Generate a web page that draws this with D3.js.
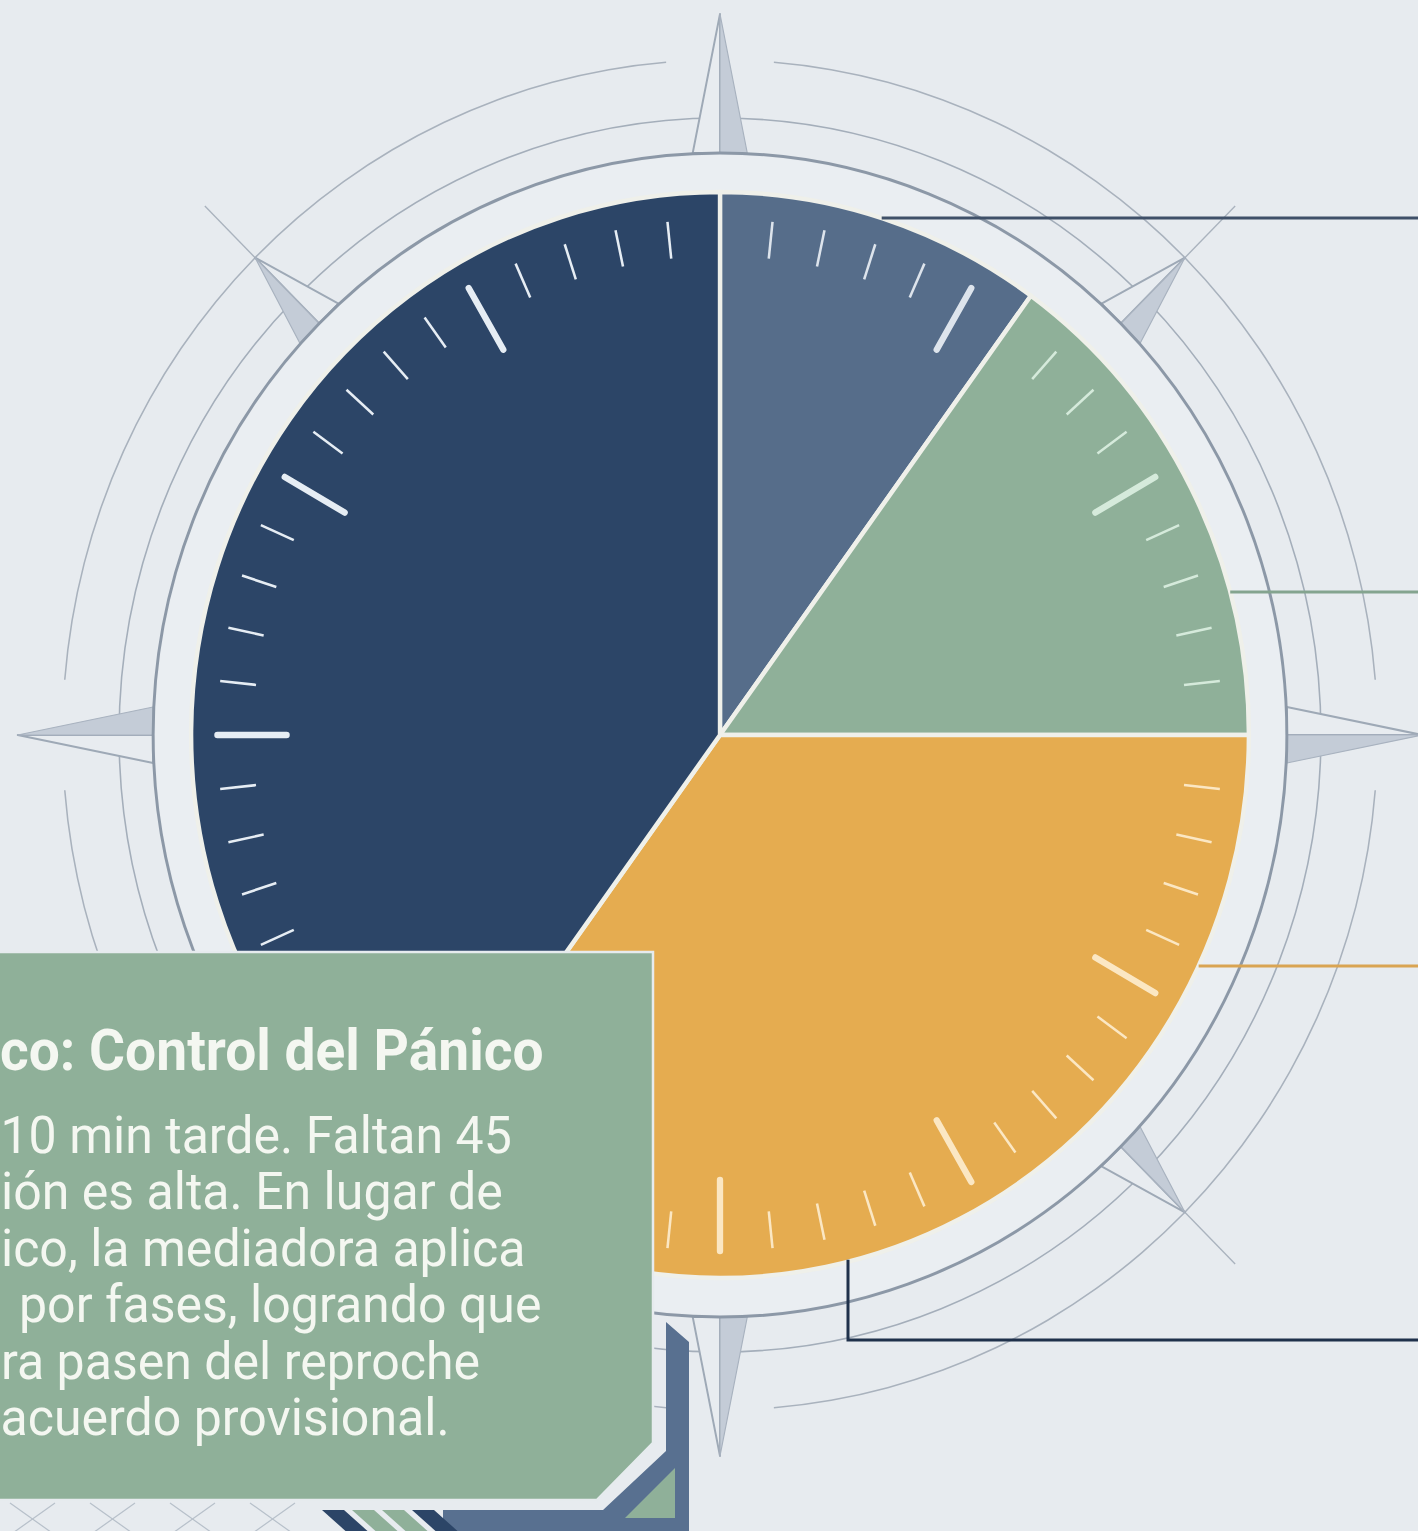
<!DOCTYPE html>
<html>
<head>
<meta charset="utf-8">
<script src="https://cdn.jsdelivr.net/npm/d3@7"></script>
<style>
  html, body { margin: 0; padding: 0; background: #e7ebef; }
  svg { display: block; }
</style>
</head>
<body>
<svg id="chart" width="1418" height="1531"></svg>
<script>
// ---------------- DATA ----------------
const categories = ["Acogida", "Exploración", "Negociación", "Cierre"];
const values = [6, 9, 21, 24];           // minutes of a 60-minute session (10%, 15%, 35%, 40%)
const sliceColors = ["#566d8a", "#8fb099", "#e5ac50", "#2c4567"];
const tickColors = ["#dde4ec", "#d5eadb", "#fbe7c3", "#e6edf4"];
const leaderColors = ["#3f5068", "#84a48f", "#d9a452", "#1f314b"];
const minutes = d3.range(60);            // clock-face minute ticks
const titleText = "co: Control del Pánico";
const bodyLines = [
  "10 min tarde. Faltan 45",
  "ión es alta. En lugar de",
  "ico, la mediadora aplica",
  "por fases, logrando que",
  "ra pasen del reproche",
  "acuerdo provisional."
];
const bodyLineStarts = [0.5, 1, 1, 19, 1, 0.5];

// ---------------- LAYOUT ----------------
const W = 1418, H = 1531;
const cx = 720, cy = 735, sx = 0.974;
const R = 543, bezelR = 582, ring2R = 617, outerR = 675;
const cardTip = 721, diagTip = 675, baseR = 582, halfW = 28;
const svg = d3.select("#chart");
const rad = d => d * Math.PI / 180;

svg.append("rect").attr("width", W).attr("height", H).attr("fill", "#e7ebef");

const g = svg.append("g").attr("transform", `translate(${cx},${cy}) scale(${sx},1)`);

// outer ring with gaps at cardinal points
const gap = 4.7;
const outerArc = d3.arc().innerRadius(outerR - 0.8).outerRadius(outerR + 0.8);
[0, 90, 180, 270].forEach(a => {
  g.append("path")
    .attr("d", outerArc({ startAngle: rad(a + gap), endAngle: rad(a + 90 - gap) }))
    .attr("fill", "#a9b2bd");
});
g.append("circle").attr("r", ring2R).attr("fill", "none")
  .attr("stroke", "#a4aeba").attr("stroke-width", 1.6);

// diagonal guide lines
[45, 135, 225, 315].forEach(a => {
  g.append("line")
    .attr("x1", diagTip * Math.sin(rad(a))).attr("y1", -diagTip * Math.cos(rad(a)))
    .attr("x2", 748 * Math.sin(rad(a))).attr("y2", -748 * Math.cos(rad(a)))
    .attr("stroke", "#aab3be").attr("stroke-width", 1.4);
});

// compass points
const points = [
  { a: 0, tip: cardTip, s: 1 }, { a: 90, tip: cardTip, s: 1 },
  { a: 180, tip: cardTip, s: -1 }, { a: 270, tip: cardTip, s: 1 },
  { a: 45, tip: diagTip, s: 1 }, { a: 135, tip: diagTip, s: -1 },
  { a: 225, tip: diagTip, s: -1 }, { a: 315, tip: diagTip, s: -1 }
];
points.forEach(p => {
  const pg = g.append("g").attr("transform", `rotate(${p.a})`);
  const w = halfW * p.s;
  pg.append("path")
    .attr("d", `M0,${-p.tip} L${-w},${-baseR} L0,${-baseR} Z`)
    .attr("fill", "#e8ecf0").attr("stroke", "#9ea9b6").attr("stroke-width", 2)
    .attr("stroke-linejoin", "round");
  pg.append("path")
    .attr("d", `M0,${-p.tip} L${w},${-baseR} L0,${-baseR} Z`)
    .attr("fill", "#c4ccd7").attr("stroke", "#a8b2bf").attr("stroke-width", 1.2)
    .attr("stroke-linejoin", "round");
});

// bezel
g.append("circle").attr("r", (bezelR + R) / 2).attr("fill", "none")
  .attr("stroke", "#eaeef2").attr("stroke-width", bezelR - R - 4);
g.append("circle").attr("r", bezelR).attr("fill", "none")
  .attr("stroke", "#8c98a7").attr("stroke-width", 3);

// pie
const pie = d3.pie().sort(null).value(d => d);
const arcs = pie(values);
const arc = d3.arc().innerRadius(0).outerRadius(R);
g.selectAll("path.slice").data(arcs).join("path")
  .attr("class", "slice")
  .attr("d", arc)
  .attr("fill", (d, i) => sliceColors[i])
  .attr("stroke", "#eff0ea").attr("stroke-width", 4.5)
  .attr("stroke-linejoin", "round");

// clock ticks
const boundaries = arcs.map(d => d.startAngle);
const sliceOf = ang => arcs.findIndex(d => ang >= d.startAngle - 1e-9 && ang < d.endAngle - 1e-9);
minutes.forEach(m => {
  const ang = rad(m * 6);
  if (boundaries.some(b => Math.abs(b - ang) < 1e-6)) return;
  const major = m % 5 === 0;
  const r2 = 516, r1 = major ? 445 : 479;
  g.append("line")
    .attr("x1", r1 * Math.sin(ang)).attr("y1", -r1 * Math.cos(ang))
    .attr("x2", r2 * Math.sin(ang)).attr("y2", -r2 * Math.cos(ang))
    .attr("stroke", tickColors[sliceOf(ang)])
    .attr("stroke-width", major ? 6.5 : 2.6)
    .attr("stroke-linecap", major ? "round" : "butt");
});

// leader lines
const rowY = i => 218 + i * 374;
arcs.forEach((d, i) => {
  let pts;
  if (i < 3) {
    const y = rowY(i);
    const x = cx + sx * Math.sqrt(R * R - (y - cy) * (y - cy));
    pts = [[x, y], [W + 5, y]];
  } else {
    const ex = 848;
    const y0 = cy + Math.sqrt(R * R - Math.pow((ex - cx) / sx, 2)) - 2;
    pts = [[ex, y0], [ex, rowY(i)], [W + 5, rowY(i)]];
  }
  svg.append("path").attr("d", d3.line()(pts))
    .attr("fill", "none").attr("stroke", leaderColors[i]).attr("stroke-width", 3);
});

// ---------------- TEXT BOX ----------------
const navy = "#2c4567", slate = "#587090", green = "#8fb099";
// frame
svg.append("path")
  .attr("d", "M666,1322 L689,1342 L689,1540 L443,1540 L443,1510 L603,1510 L666,1451 Z")
  .attr("fill", slate);
svg.append("path").attr("d", "M675,1468 L675,1518 L625,1518 Z").attr("fill", green);
// stripes
const stripeX = [322, 352, 382, 412];
const stripeC = [navy, green, green, navy];
stripeX.forEach((x, i) => {
  svg.append("path")
    .attr("d", `M${x},1510 L${x + 22},1510 L${x + 50},1535 L${x + 28},1535 Z`)
    .attr("fill", stripeC[i]);
});
// faint lattice bottom-left
const lat = svg.append("g").attr("stroke", "#b7c0ca").attr("stroke-width", 1.2);
[10, 90, 170, 250].forEach(x => {
  lat.append("line").attr("x1", x).attr("y1", 1503).attr("x2", x + 45).attr("y2", 1535);
  lat.append("line").attr("x1", x + 45).attr("y1", 1503).attr("x2", x).attr("y2", 1535);
});
// main green box
svg.append("path")
  .attr("d", "M-10,952 L653,952 L653,1443 L597,1500 L-10,1500 Z")
  .attr("fill", green).attr("stroke", "#e6ebee").attr("stroke-width", 2.5);

const tg = svg.append("g").attr("transform", `scale(${sx},1)`)
  .attr("font-family", "Roboto, 'Noto Sans', sans-serif").attr("fill", "#f4f7f1");
tg.append("text")
  .attr("x", 0).attr("y", 1070)
  .attr("font-size", 56.6).attr("font-weight", 700)
  .text(titleText);
tg.selectAll("text.body").data(bodyLines).join("text")
  .attr("class", "body")
  .attr("x", (d, i) => bodyLineStarts[i] / sx)
  .attr("y", (d, i) => 1153 + i * 56.5)
  .attr("font-size", 51.4)
  .text(d => d);
</script>
</body>
</html>
